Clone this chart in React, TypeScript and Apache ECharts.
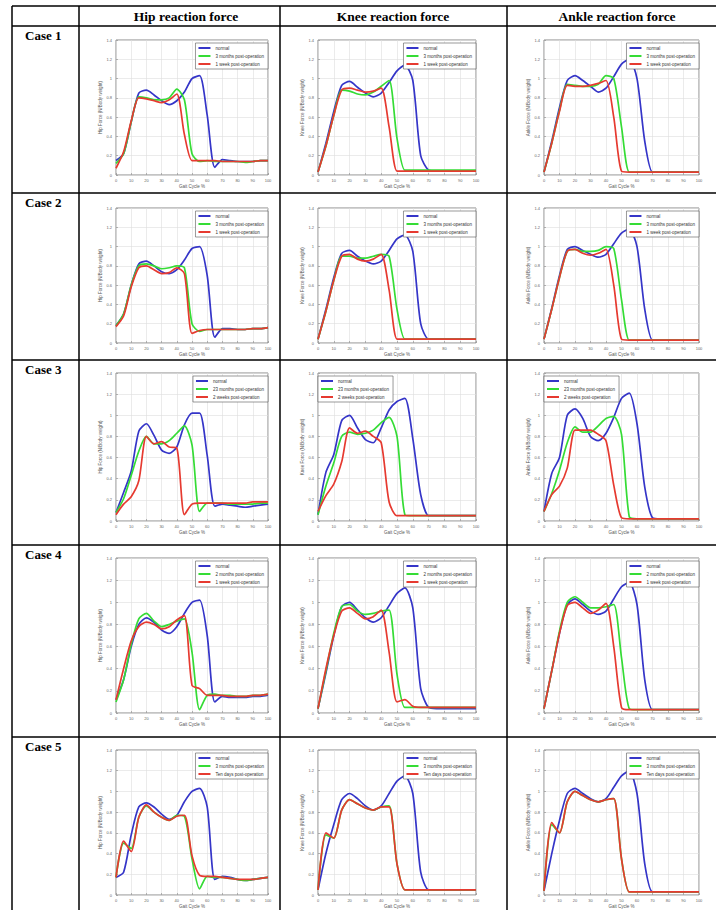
import React, { useEffect, useRef } from "react";
import * as echarts from "echarts";

// ---------- data ----------
const GAIT = [0, 5, 10, 15, 20, 25, 30, 35, 40, 45, 50, 55, 60, 65, 70, 75, 80, 85, 90, 95, 100];
const Y_MIN = 0;
const Y_MAX = 1.4;
const Y_STEP = 0.2;
const X_STEP = 10;

const HEADERS = ["Hip reaction force", "Knee reaction force", "Ankle reaction force"];
const JOINTS = ["Hip", "Knee", "Ankle"];
const CASE_LABELS = ["Case 1", "Case 2", "Case 3", "Case 4", "Case 5"];
const NORMAL_LABEL = "normal";
const GREEN_LABELS = [
  "3 months post-operation",
  "3 months post-operation",
  "23 months post-operation",
  "2 months post-operation",
  "3 months post-operation",
];
const RED_LABELS = [
  "1 week post-operation",
  "1 week post-operation",
  "2 weeks post-operation",
  "1 week post-operation",
  "Ten days post-operation",
];

// Case 1
const c1HipN = [0.15, 0.22, 0.55, 0.85, 0.88, 0.83, 0.77, 0.73, 0.77, 0.86, 1.0, 1.03, 0.62, 0.08, 0.16, 0.15, 0.14, 0.14, 0.14, 0.15, 0.15];
const c1HipG = [0.12, 0.22, 0.55, 0.81, 0.8, 0.78, 0.78, 0.8, 0.89, 0.78, 0.22, 0.14, 0.15, 0.14, 0.14, 0.14, 0.14, 0.13, 0.14, 0.15, 0.15];
const c1HipR = [0.07, 0.24, 0.56, 0.8, 0.79, 0.77, 0.75, 0.78, 0.84, 0.42, 0.15, 0.15, 0.15, 0.15, 0.14, 0.14, 0.14, 0.14, 0.14, 0.15, 0.15];
const c1KneeN = [0.03, 0.33, 0.66, 0.93, 0.97, 0.91, 0.85, 0.81, 0.85, 0.96, 1.08, 1.14, 0.98, 0.2, 0.05, 0.04, 0.04, 0.04, 0.04, 0.04, 0.04];
const c1KneeG = [0.03, 0.3, 0.62, 0.88, 0.87, 0.84, 0.83, 0.86, 0.92, 0.98, 0.38, 0.05, 0.05, 0.05, 0.05, 0.05, 0.05, 0.05, 0.05, 0.05, 0.05];
const c1KneeR = [0.03, 0.3, 0.62, 0.88, 0.9, 0.88, 0.86, 0.87, 0.9, 0.5, 0.04, 0.04, 0.04, 0.04, 0.04, 0.04, 0.04, 0.04, 0.04, 0.04, 0.04];
const c1AnkleN = [0.03, 0.35, 0.7, 0.98, 1.03, 0.98, 0.92, 0.86, 0.9, 1.02, 1.15, 1.2, 1.0, 0.35, 0.03, 0.03, 0.03, 0.03, 0.03, 0.03, 0.03];
const c1AnkleG = [0.03, 0.33, 0.67, 0.94, 0.93, 0.92, 0.92, 0.94, 1.03, 1.0, 0.5, 0.03, 0.03, 0.03, 0.03, 0.03, 0.03, 0.03, 0.03, 0.03, 0.03];
const c1AnkleR = [0.03, 0.33, 0.66, 0.93, 0.92, 0.92, 0.93, 0.95, 0.98, 0.6, 0.04, 0.03, 0.03, 0.03, 0.03, 0.03, 0.03, 0.03, 0.03, 0.03, 0.03];

// Case 2
const c2HipN = [0.18, 0.3, 0.6, 0.82, 0.85, 0.8, 0.74, 0.72, 0.76, 0.86, 0.98, 1.0, 0.7, 0.06, 0.15, 0.15, 0.14, 0.14, 0.15, 0.15, 0.16];
const c2HipG = [0.18, 0.3, 0.6, 0.8, 0.82, 0.8, 0.77, 0.78, 0.8, 0.78, 0.2, 0.12, 0.14, 0.14, 0.14, 0.14, 0.14, 0.14, 0.15, 0.15, 0.16];
const c2HipR = [0.17, 0.28, 0.58, 0.78, 0.8, 0.76, 0.72, 0.73, 0.78, 0.72, 0.1, 0.13, 0.14, 0.14, 0.14, 0.14, 0.14, 0.14, 0.15, 0.15, 0.16];
const c2KneeN = [0.04, 0.35, 0.68, 0.93, 0.96, 0.9, 0.85, 0.82, 0.85, 0.96, 1.08, 1.12, 0.95, 0.2, 0.04, 0.04, 0.04, 0.04, 0.04, 0.04, 0.04];
const c2KneeG = [0.04, 0.33, 0.65, 0.9, 0.9, 0.88, 0.88, 0.9, 0.92, 0.9, 0.35, 0.04, 0.04, 0.04, 0.04, 0.04, 0.04, 0.04, 0.04, 0.04, 0.04];
const c2KneeR = [0.04, 0.33, 0.65, 0.9, 0.92, 0.87, 0.85, 0.87, 0.92, 0.55, 0.04, 0.04, 0.04, 0.04, 0.04, 0.04, 0.04, 0.04, 0.04, 0.04, 0.04];
const c2AnkleN = [0.04, 0.36, 0.7, 0.97, 1.0, 0.96, 0.92, 0.89, 0.92, 1.03, 1.14, 1.18, 1.0, 0.35, 0.03, 0.03, 0.03, 0.03, 0.03, 0.03, 0.03];
const c2AnkleG = [0.04, 0.35, 0.68, 0.95, 0.97, 0.95, 0.95, 0.96, 1.0, 0.98, 0.45, 0.03, 0.03, 0.03, 0.03, 0.03, 0.03, 0.03, 0.03, 0.03, 0.03];
const c2AnkleR = [0.04, 0.35, 0.68, 0.95, 0.97, 0.93, 0.91, 0.93, 0.97, 0.6, 0.04, 0.03, 0.03, 0.03, 0.03, 0.03, 0.03, 0.03, 0.03, 0.03, 0.03];

// Case 3
const c3HipN = [0.08, 0.27, 0.47, 0.85, 0.92, 0.81, 0.67, 0.64, 0.7, 0.91, 1.02, 1.02, 0.62, 0.14, 0.16, 0.15, 0.14, 0.13, 0.14, 0.15, 0.16];
const c3HipG = [0.08, 0.21, 0.43, 0.66, 0.8, 0.73, 0.73, 0.76, 0.83, 0.9, 0.72, 0.09, 0.17, 0.17, 0.17, 0.16, 0.16, 0.16, 0.16, 0.17, 0.17];
const c3HipR = [0.06, 0.16, 0.23, 0.38, 0.8, 0.73, 0.75, 0.7, 0.69, 0.06, 0.16, 0.17, 0.17, 0.17, 0.17, 0.17, 0.17, 0.17, 0.18, 0.18, 0.18];
const c3KneeN = [0.06, 0.46, 0.63, 0.95, 1.0, 0.88, 0.77, 0.74, 0.88, 1.05, 1.13, 1.16, 0.78, 0.25, 0.05, 0.05, 0.05, 0.05, 0.05, 0.05, 0.05];
const c3KneeG = [0.06, 0.33, 0.55, 0.8, 0.84, 0.82, 0.83, 0.86, 0.93, 0.98, 0.8, 0.06, 0.05, 0.05, 0.05, 0.05, 0.05, 0.05, 0.05, 0.05, 0.05];
const c3KneeR = [0.09, 0.24, 0.35, 0.56, 0.88, 0.83, 0.85, 0.8, 0.74, 0.18, 0.05, 0.05, 0.05, 0.05, 0.05, 0.05, 0.05, 0.05, 0.05, 0.05, 0.05];
const c3AnkleN = [0.09, 0.45, 0.6, 1.0, 1.06, 0.97, 0.8, 0.76, 0.83, 0.98, 1.16, 1.21, 0.92, 0.32, 0.03, 0.02, 0.02, 0.02, 0.02, 0.02, 0.02];
const c3AnkleG = [0.09, 0.26, 0.48, 0.74, 0.89, 0.84, 0.84, 0.9, 0.97, 0.99, 0.82, 0.04, 0.02, 0.02, 0.02, 0.02, 0.02, 0.02, 0.02, 0.02, 0.02];
const c3AnkleR = [0.09, 0.25, 0.33, 0.5, 0.86, 0.86, 0.86, 0.82, 0.76, 0.34, 0.03, 0.02, 0.02, 0.02, 0.02, 0.02, 0.02, 0.02, 0.02, 0.02, 0.02];

// Case 4
const c4HipN = [0.12, 0.3, 0.6, 0.8, 0.86, 0.82, 0.75, 0.72, 0.78, 0.9, 1.0, 1.02, 0.7, 0.1, 0.15, 0.14, 0.14, 0.14, 0.15, 0.15, 0.16];
const c4HipG = [0.1, 0.3, 0.62, 0.85, 0.9, 0.83, 0.78, 0.8, 0.83, 0.85, 0.55, 0.03, 0.16, 0.17, 0.16, 0.16, 0.15, 0.15, 0.16, 0.16, 0.17];
const c4HipR = [0.12, 0.4, 0.65, 0.78, 0.82, 0.8, 0.76, 0.78, 0.84, 0.88, 0.25, 0.22, 0.16, 0.16, 0.16, 0.15, 0.15, 0.15, 0.16, 0.16, 0.17];
const c4KneeN = [0.04, 0.36, 0.7, 0.96, 1.0, 0.93, 0.86, 0.82, 0.86, 0.97, 1.08, 1.13, 0.95, 0.22, 0.05, 0.04, 0.04, 0.04, 0.04, 0.04, 0.04];
const c4KneeG = [0.04, 0.38, 0.72, 0.96, 0.98, 0.92, 0.89, 0.9, 0.92, 0.93, 0.35, 0.05, 0.05, 0.05, 0.05, 0.05, 0.05, 0.05, 0.05, 0.05, 0.05];
const c4KneeR = [0.04, 0.4, 0.7, 0.92, 0.95, 0.9, 0.85, 0.87, 0.93, 0.55, 0.1, 0.12, 0.06, 0.05, 0.05, 0.05, 0.05, 0.05, 0.05, 0.05, 0.05];
const c4AnkleN = [0.04, 0.38, 0.72, 0.98, 1.03, 0.98, 0.92, 0.89, 0.92, 1.03, 1.14, 1.18, 0.98, 0.3, 0.03, 0.03, 0.03, 0.03, 0.03, 0.03, 0.03];
const c4AnkleG = [0.04, 0.38, 0.74, 1.0, 1.05, 1.0, 0.95, 0.95, 0.96, 0.98, 0.5, 0.04, 0.03, 0.03, 0.03, 0.03, 0.03, 0.03, 0.03, 0.03, 0.03];
const c4AnkleR = [0.04, 0.38, 0.72, 0.97, 1.0, 0.95, 0.9, 0.93, 0.99, 0.6, 0.05, 0.03, 0.03, 0.03, 0.03, 0.03, 0.03, 0.03, 0.03, 0.03, 0.03];

// Case 5
const c5HipN = [0.17, 0.22, 0.58, 0.85, 0.89, 0.85, 0.78, 0.73, 0.77, 0.9, 1.0, 1.03, 0.85, 0.15, 0.18, 0.17, 0.15, 0.14, 0.15, 0.16, 0.17];
const c5HipG = [0.17, 0.5, 0.45, 0.75, 0.86, 0.8, 0.75, 0.72, 0.77, 0.76, 0.35, 0.06, 0.18, 0.17, 0.17, 0.16, 0.15, 0.14, 0.15, 0.16, 0.17];
const c5HipR = [0.17, 0.52, 0.42, 0.75, 0.87, 0.8, 0.75, 0.72, 0.76, 0.77, 0.38, 0.19, 0.18, 0.18, 0.17, 0.16, 0.15, 0.15, 0.15, 0.16, 0.17];
const c5KneeN = [0.05, 0.4, 0.68, 0.92, 0.98, 0.93, 0.86, 0.82, 0.86, 0.98, 1.1, 1.15, 0.98, 0.22, 0.05, 0.05, 0.05, 0.05, 0.05, 0.05, 0.05];
const c5KneeG = [0.05, 0.58, 0.55, 0.82, 0.92, 0.88, 0.84, 0.82, 0.85, 0.86, 0.3, 0.05, 0.05, 0.05, 0.05, 0.05, 0.05, 0.05, 0.05, 0.05, 0.05];
const c5KneeR = [0.05, 0.6, 0.55, 0.82, 0.92, 0.88, 0.84, 0.82, 0.85, 0.85, 0.3, 0.05, 0.05, 0.05, 0.05, 0.05, 0.05, 0.05, 0.05, 0.05, 0.05];
const c5AnkleN = [0.04, 0.4, 0.72, 0.98, 1.03, 0.98, 0.93, 0.9, 0.93, 1.04, 1.15, 1.2, 0.98, 0.3, 0.03, 0.03, 0.03, 0.03, 0.03, 0.03, 0.03];
const c5AnkleG = [0.04, 0.68, 0.6, 0.9, 1.0, 0.96, 0.92, 0.9, 0.92, 0.93, 0.35, 0.03, 0.03, 0.03, 0.03, 0.03, 0.03, 0.03, 0.03, 0.03, 0.03];
const c5AnkleR = [0.04, 0.7, 0.6, 0.9, 1.0, 0.96, 0.92, 0.9, 0.92, 0.93, 0.35, 0.03, 0.03, 0.03, 0.03, 0.03, 0.03, 0.03, 0.03, 0.03, 0.03];

const CASE_DATA = [
  [[c1HipN, c1HipG, c1HipR], [c1KneeN, c1KneeG, c1KneeR], [c1AnkleN, c1AnkleG, c1AnkleR]],
  [[c2HipN, c2HipG, c2HipR], [c2KneeN, c2KneeG, c2KneeR], [c2AnkleN, c2AnkleG, c2AnkleR]],
  [[c3HipN, c3HipG, c3HipR], [c3KneeN, c3KneeG, c3KneeR], [c3AnkleN, c3AnkleG, c3AnkleR]],
  [[c4HipN, c4HipG, c4HipR], [c4KneeN, c4KneeG, c4KneeR], [c4AnkleN, c4AnkleG, c4AnkleR]],
  [[c5HipN, c5HipG, c5HipR], [c5KneeN, c5KneeG, c5KneeR], [c5AnkleN, c5AnkleG, c5AnkleR]],
];

// ---------- layout ----------
const W = 716;
const H = 910;
const ROW_PLOT = [[40, 175], [208, 343], [373, 521], [558, 713], [750, 900]];
const COL_PLOT = [[116, 268], [318, 476], [544, 699]];
const ROW_LINES = [6, 26, 193, 360, 545, 737];
const COL_LINES = [12, 79, 280, 507];
const HEADER_X = [186, 393, 617];
const LEGEND_LEFT = [[false, false, false], [false, false, false], [false, true, true], [false, false, false], [false, false, false]];
const COLORS = ["#3535c8", "#35dc35", "#e63a30"];

function buildOption() {
  const grid: any[] = [];
  const xAxis: any[] = [];
  const yAxis: any[] = [];
  const series: any[] = [];
  const legend: any[] = [];
  let gi = 0;
  for (let r = 0; r < 5; r++) {
    for (let c = 0; c < 3; c++) {
      const [l, rt] = COL_PLOT[c];
      const [t, b] = ROW_PLOT[r];
      grid.push({
        left: l,
        top: t,
        width: rt - l,
        height: b - t,
        show: true,
        borderColor: "#6a6a6a",
        borderWidth: 0.8,
        backgroundColor: "#fff",
      });
      xAxis.push({
        gridIndex: gi,
        type: "value",
        min: 0,
        max: 100,
        interval: X_STEP,
        name: "Gait Cycle %",
        nameLocation: "middle",
        nameGap: 9,
        nameTextStyle: { fontSize: 4.5, color: "#555", fontFamily: "Liberation Sans" },
        axisLine: { show: false },
        axisTick: { show: true, inside: true, length: 2, lineStyle: { color: "#777", width: 0.5 } },
        axisLabel: { fontSize: 4, color: "#666", margin: 3, fontFamily: "Liberation Sans" },
        splitLine: { show: true, lineStyle: { color: "#dedede", width: 0.6 } },
      });
      yAxis.push({
        gridIndex: gi,
        type: "value",
        min: Y_MIN,
        max: Y_MAX,
        interval: Y_STEP,
        name: JOINTS[c] + " Force (N/Body weight)",
        nameLocation: "middle",
        nameGap: 11,
        nameRotate: 90,
        nameTextStyle: { fontSize: 4.5, color: "#555", fontFamily: "Liberation Sans" },
        axisLine: { show: false },
        axisTick: { show: true, inside: true, length: 2, lineStyle: { color: "#777", width: 0.5 } },
        axisLabel: { fontSize: 4, color: "#666", margin: 4, fontFamily: "Liberation Sans" },
        splitLine: { show: true, lineStyle: { color: "#dedede", width: 0.6 } },
      });
      const names = [NORMAL_LABEL, GREEN_LABELS[r], RED_LABELS[r]];
      CASE_DATA[r][c].forEach((vals: number[], k: number) => {
        series.push({
          type: "line",
          name: names[k],
          xAxisIndex: gi,
          yAxisIndex: gi,
          data: GAIT.map((x, i) => [x, vals[i]]),
          showSymbol: false,
          smooth: 0.25,
          color: COLORS[k],
          lineStyle: { width: 1.7, color: COLORS[k] },
          z: 2 + k,
        });
      });
      const lg: any = {
        data: names,
        orient: "vertical",
        top: t + 3,
        icon: "rect",
        itemWidth: 12,
        itemHeight: 2,
        itemGap: 2,
        padding: [2, 4, 2, 3],
        borderColor: "#555",
        borderWidth: 0.6,
        backgroundColor: "#fff",
        selectedMode: false,
        textStyle: { fontSize: 4.5, color: "#333", fontFamily: "Liberation Sans", lineHeight: 6 },
        z: 20,
      };
      if (LEGEND_LEFT[r][c]) lg.left = l;
      else lg.right = W - rt;
      legend.push(lg);
      gi++;
    }
  }

  const graphic: any[] = [];
  ROW_LINES.forEach((y) => {
    graphic.push({ type: "line", shape: { x1: COL_LINES[0], y1: y, x2: W, y2: y }, style: { stroke: "#000", lineWidth: 1.5 }, z: 100 });
  });
  COL_LINES.forEach((x) => {
    graphic.push({ type: "line", shape: { x1: x, y1: ROW_LINES[0], x2: x, y2: H }, style: { stroke: "#000", lineWidth: 1.5 }, z: 100 });
  });
  HEADERS.forEach((h, i) => {
    graphic.push({
      type: "text",
      x: HEADER_X[i],
      y: 16,
      style: {
        text: h,
        fill: "#000",
        font: "bold 13.5px 'Liberation Serif'",
        textAlign: "center",
        textVerticalAlign: "middle",
      },
      z: 100,
    });
  });
  CASE_LABELS.forEach((lab, r) => {
    graphic.push({
      type: "text",
      x: 25,
      y: ROW_LINES[r + 1] + 9,
      style: {
        text: lab,
        fill: "#000",
        font: "bold 13px 'Liberation Serif'",
        textAlign: "left",
        textVerticalAlign: "middle",
      },
      z: 100,
    });
  });

  return {
    animation: false,
    backgroundColor: "#fff",
    grid,
    xAxis,
    yAxis,
    series,
    legend,
    graphic,
  };
}

export default function App() {
  const ref = useRef<HTMLDivElement>(null);
  useEffect(() => {
    if (!ref.current) return;
    const chart = echarts.init(ref.current, null, { renderer: "svg" });
    chart.setOption(buildOption());
    return () => chart.dispose();
  }, []);
  return (
    <div
      ref={ref}
      style={{ position: "absolute", left: 0, top: 0, width: W, height: H, background: "#fff" }}
    />
  );
}
